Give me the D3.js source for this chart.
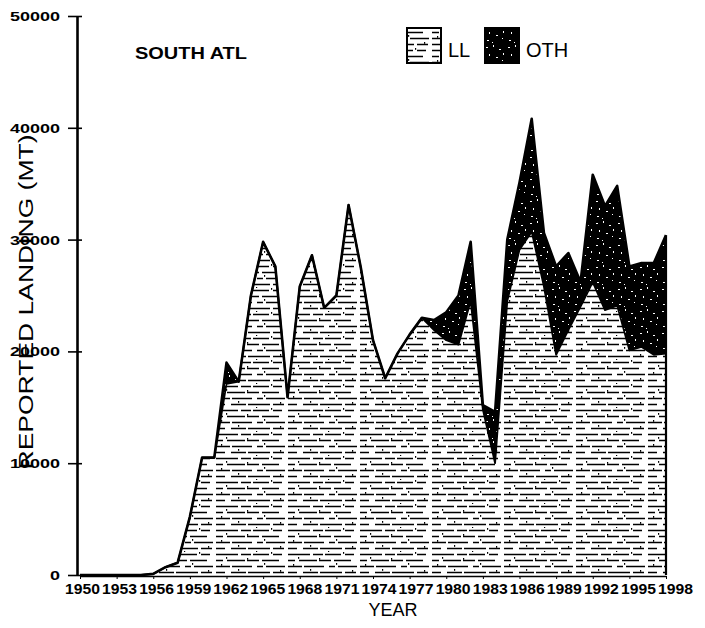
<!DOCTYPE html>
<html><head><meta charset="utf-8">
<script src="https://cdn.jsdelivr.net/npm/d3@7"></script>
<style>body{margin:0;background:#fff} svg{display:block}</style>
</head><body><svg id="c" width="705" height="628"></svg>
<script>
const years = [1950,1951,1952,1953,1954,1955,1956,1957,1958,1959,
  1960,1961,1962,1963,1964,1965,1966,1967,1968,1969,
  1970,1971,1972,1973,1974,1975,1976,1977,1978,1979,
  1980,1981,1982,1983,1984,1985,1986,1987,1988,1989,
  1990,1991,1992,1993,1994,1995,1996,1997,1998];
const llValues = [0,0,0,0,0,0,100,700,1100,5200,
  10500,10500,17100,17300,25000,29800,27600,15900,25800,28600,
  23900,25000,33100,27500,21000,17600,19800,21500,23000,21900,
  21000,20600,24500,14800,10000,24500,29100,30700,25800,19700,
  21900,24000,26200,23700,24100,20100,20400,19700,19800];
const othValues = [0,0,0,0,0,0,0,0,0,0,
  0,0,1900,0,0,0,0,0,0,0,
  0,0,0,0,0,0,0,0,0,900,
  2500,4400,5300,400,4600,5500,6000,10100,4800,7900,
  6900,2200,9600,9300,10700,7500,7500,8200,10600];
const xTickYears = [1950,1953,1956,1959,1962,1965,1968,1971,1974,1977,1980,1983,1986,1989,1992,1995,1998];
const yTickValues = [0,10000,20000,30000,40000,50000];
const seriesNames = ["LL","OTH"];
const chartTitle = "SOUTH ATL";
const xTitle = "YEAR";
const yTitle = "REPORTED LANDING (MT)";

const svg = d3.select("#c");
const x = d3.scaleLinear().domain([1950,1998]).range([80,666]);
const y = d3.scaleLinear().domain([0,50000]).range([575,16]);

const rows = years.map((yr,i)=>({year:yr, LL:llValues[i], OTH:othValues[i]}));
const stack = d3.stack().keys(seriesNames)(rows);

// patterns
const defs = svg.append("defs");
const ph = defs.append("pattern").attr("id","hatch").attr("patternUnits","userSpaceOnUse")
  .attr("width",72).attr("height",24);
ph.append("rect").attr("width",72).attr("height",24).attr("fill","#fff");
const hl = [[2.5,"22,3,10,2,16,4,9,6"],[8.5,"7,4,18,2,12,3,17,9"],[14.5,"14,2,20,5,6,3,19,3"],[20.5,"9,6,15,2,22,3,11,4"]];
hl.forEach(([yy,da])=>ph.append("line").attr("x1",0).attr("x2",72).attr("y1",yy).attr("y2",yy)
  .attr("stroke","#000").attr("stroke-width",1.3).attr("stroke-dasharray",da));
[[10,5],[31,6],[48,11],[22,17],[55,0],[40,23],[64,18],[5,12]].forEach(([a,b])=>
  ph.append("rect").attr("x",a).attr("y",b).attr("width",1.2).attr("height",1.8).attr("fill","#000"));

const po = defs.append("pattern").attr("id","speck").attr("patternUnits","userSpaceOnUse")
  .attr("width",22).attr("height",22);
po.append("rect").attr("width",22).attr("height",22).attr("fill","#000");
[[2,3,2,1],[9,1,1,2],[15,5,2,1],[5,10,1,2],[12,13,2,1],[18,16,1,1],[3,18,2,1],[19,9,1,2],[8,20,1,1]].forEach(([a,b,w,h])=>
  po.append("rect").attr("x",a).attr("y",b).attr("width",w).attr("height",h).attr("fill","#fff"));

const area = d3.area().x(d=>x(d.data.year)).y0(d=>y(d[0])).y1(d=>y(d[1]));
svg.append("path").datum(stack[0]).attr("d",area).attr("fill","url(#hatch)");
svg.append("path").datum(stack[1]).attr("d",area).attr("fill","url(#speck)");

const line = d3.line().x(d=>x(d.data.year)).y(d=>y(d[1]));
svg.append("path").datum(stack[0]).attr("d",line).attr("fill","none")
  .attr("stroke","#000").attr("stroke-width",1.8).attr("stroke-linejoin","round");
svg.append("path").datum(stack[1]).attr("d",line).attr("fill","none")
  .attr("stroke","#000").attr("stroke-width",2.6).attr("stroke-linejoin","round");
const last = stack[1][stack[1].length-1];
svg.append("line").attr("x1",x(last.data.year)).attr("x2",x(last.data.year))
  .attr("y1",y(last[1])).attr("y2",y(0)).attr("stroke","#000").attr("stroke-width",2.2);

// axes
const yAxis = svg.append("g").attr("transform","translate(77,0)")
  .call(d3.axisLeft(y).tickValues(yTickValues).tickSize(8).tickSizeOuter(0).tickFormat(d3.format("d")));
yAxis.select(".domain").attr("stroke-width",2.6);
yAxis.selectAll(".tick line").attr("x2",-9).attr("x1",5).attr("stroke-width",1.6);
yAxis.selectAll(".tick text").attr("x",-17).attr("font-family","Liberation Sans, Arial, sans-serif")
  .attr("font-weight","bold").attr("font-size",13).attr("dy","0.35em")
  .attr("textLength",d=>String(d).length*10).attr("lengthAdjust","spacingAndGlyphs");

const xAxis = svg.append("g").attr("transform","translate(0,576)")
  .call(d3.axisBottom(x).tickValues(xTickYears).tickSize(3).tickSizeOuter(0).tickFormat(d3.format("d")));
xAxis.select(".domain").attr("stroke-width",1.6);
xAxis.selectAll(".tick text").attr("y",8).attr("dx",(d,i)=>2+7*i/16).attr("font-family","Liberation Sans, Arial, sans-serif")
  .attr("font-weight","bold").attr("font-size",14).attr("textLength",35).attr("lengthAdjust","spacingAndGlyphs");

svg.append("text").attr("x",393).attr("y",616).attr("text-anchor","middle")
  .attr("font-family","Liberation Sans, Arial, sans-serif").attr("font-size",18).text(xTitle);
svg.append("text").attr("transform","translate(33,302) rotate(-90)").attr("text-anchor","middle")
  .attr("font-family","Liberation Sans, Arial, sans-serif").attr("font-size",20)
  .attr("textLength",335).attr("lengthAdjust","spacingAndGlyphs").text(yTitle);

svg.append("text").attr("x",135).attr("y",59)
  .attr("font-family","Liberation Sans, Arial, sans-serif").attr("font-weight","bold").attr("font-size",16)
  .attr("textLength",112).attr("lengthAdjust","spacingAndGlyphs").text(chartTitle);

// legend
const legendX = [407, 485];
const legendFill = ["url(#hatch)","url(#speck)"];
seriesNames.forEach((n,i)=>{
  svg.append("rect").attr("x",legendX[i]).attr("y",28).attr("width",34).attr("height",35)
    .attr("fill",legendFill[i]).attr("stroke","#000").attr("stroke-width",2);
  svg.append("text").attr("x",legendX[i]+41).attr("y",57)
    .attr("font-family","Liberation Sans, Arial, sans-serif").attr("font-size",20).text(n);
});
</script></body></html>
